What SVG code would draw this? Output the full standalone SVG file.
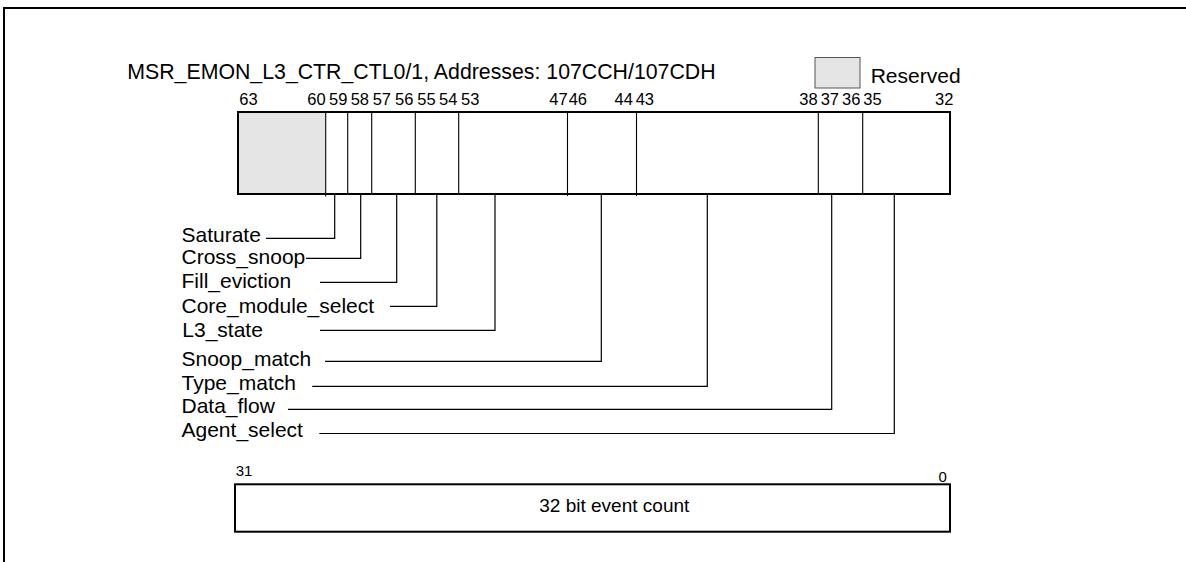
<svg xmlns="http://www.w3.org/2000/svg" width="1186" height="562" viewBox="0 0 1186 562">
<style>
text { font-family: "Liberation Sans", Arial, sans-serif; fill: #000; }
.title { font-size: 21.3px; }
.lbl { font-size: 21px; }
.bit { font-size: 16.5px; }
.bitb { font-size: 15px; }
.box { fill: #fff; stroke: #000; stroke-width: 2; }
.div { stroke: #000; stroke-width: 1.1; fill: none; }
.con { stroke: #000; stroke-width: 1.2; fill: none; }
.res { fill: #e5e5e5; }
</style>
<rect width="1186" height="562" fill="#fff"/>
<g id="frame">
<path d="M4 562 V8 H1186" fill="none" stroke="#000" stroke-width="2"/>
</g>
<g id="title">
<text class="title" x="127.3" y="79">MSR_EMON_L3_CTR_CTL0/1, Addresses: 107CCH/107CDH</text>
</g>
<g id="legend">
<rect x="815" y="57.5" width="45" height="30.5" fill="#e5e5e5" stroke="#555" stroke-width="1"/>
<text class="lbl" x="870.7" y="82.7">Reserved</text>
</g>
<g id="register-high">
<rect class="box" x="238" y="112" width="712" height="82"/>
<rect class="res" x="239" y="113" width="86" height="80"/>
<path class="div" d="M325.7 112 V196.5 M347.7 112 V194 M371.7 112 V194 M415.3 112 V194 M458.7 112 V194 M567.5 112 V196 M636.5 112 V196 M818.3 112 V194 M862.7 112 V194"/>
<text class="bit" x="239.3" y="105">63</text>
<text class="bit" x="307.3" y="105">60</text>
<text class="bit" x="329" y="105">59</text>
<text class="bit" x="350.7" y="105">58</text>
<text class="bit" x="372.7" y="105">57</text>
<text class="bit" x="395" y="105">56</text>
<text class="bit" x="417.3" y="105">55</text>
<text class="bit" x="439" y="105">54</text>
<text class="bit" x="461" y="105">53</text>
<text class="bit" x="549.3" y="105">47</text>
<text class="bit" x="568.7" y="105">46</text>
<text class="bit" x="614.5" y="105">44</text>
<text class="bit" x="635.7" y="105">43</text>
<text class="bit" x="799.3" y="105">38</text>
<text class="bit" x="820.7" y="105">37</text>
<text class="bit" x="842" y="105">36</text>
<text class="bit" x="863.3" y="105">35</text>
<text class="bit" x="935" y="105">32</text>
</g>
<g id="register-low">
<rect class="box" x="235" y="484.3" width="715" height="47.4"/>
<text class="bitb" x="235.7" y="475.7">31</text>
<text class="bitb" x="938.4" y="482">0</text>
<text x="539.3" y="512" font-size="19">32 bit event count</text>
</g>
<g id="saturate"><text class="lbl" x="181.5" y="241.7">Saturate</text></g>
<g id="cross-snoop"><text class="lbl" x="181.5" y="264.3">Cross_snoop</text></g>
<g id="fill-eviction"><text class="lbl" x="181.5" y="288.3">Fill_eviction</text></g>
<g id="core-module-select"><text class="lbl" x="181.5" y="312.7">Core_module_select</text></g>
<g id="l3-state"><text class="lbl" x="182.3" y="337">L3_state</text></g>
<g id="snoop-match"><text class="lbl" x="181.5" y="365.7">Snoop_match</text></g>
<g id="type-match"><text class="lbl" x="181.5" y="389.7">Type_match</text></g>
<g id="data-flow"><text class="lbl" x="181.5" y="413">Data_flow</text></g>
<g id="agent-select"><text class="lbl" x="181.5" y="436.7">Agent_select</text></g>
<g id="connectors">
<path class="con" d="M266 238.3 H334.7 V194"/>
<path class="con" d="M306 258.3 H360.7 V193"/>
<path class="con" d="M320 282.3 H396.7 V193"/>
<path class="con" d="M390 306.3 H436.8 V194"/>
<path class="con" d="M320 330.3 H495 V194"/>
<path class="con" d="M325 361.3 H601.3 V193"/>
<path class="con" d="M312.3 386.3 H707.3 V194"/>
<path class="con" d="M288 409.3 H831.7 V194"/>
<path class="con" d="M319.3 433.5 H894.3 V193"/>
</g>
</svg>
